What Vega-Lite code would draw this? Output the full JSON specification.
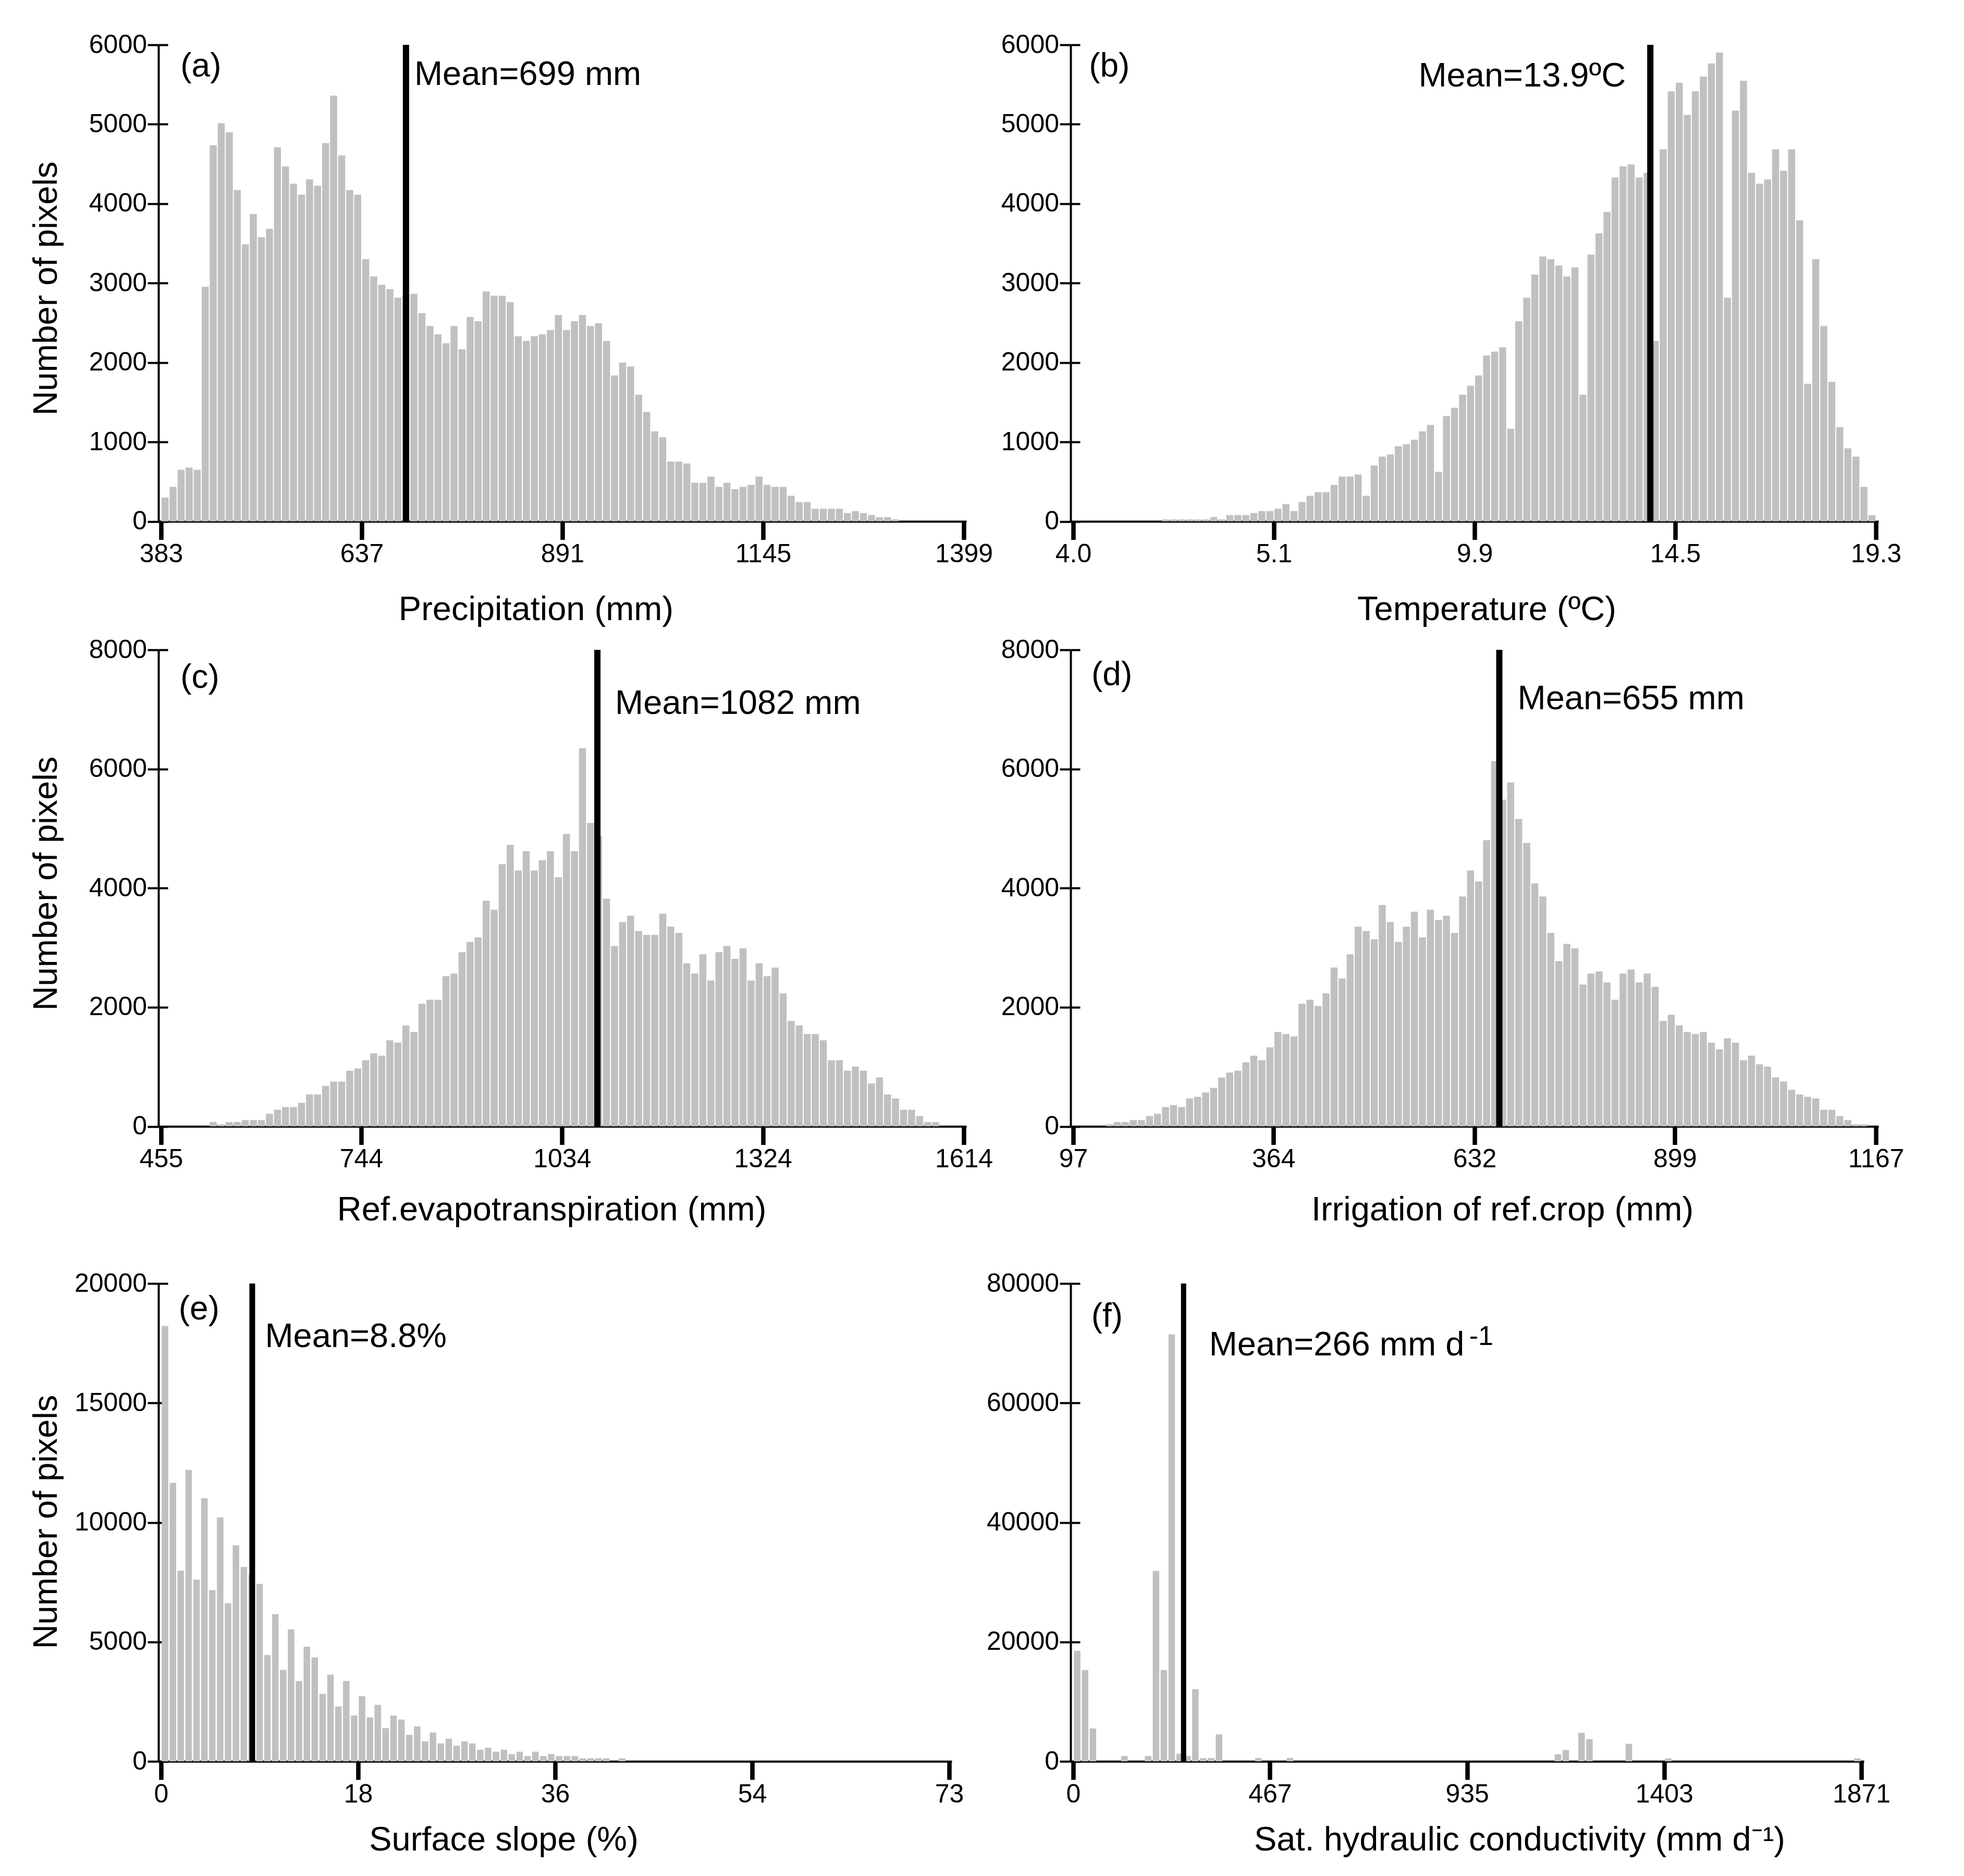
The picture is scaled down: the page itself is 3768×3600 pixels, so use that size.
{
"$schema":"https://vega.github.io/schema/vega-lite/v6.json",
"background":"white",
"padding":{"left":56,"top":61,"right":5,"bottom":5},
"config":{
 "font":"Liberation Sans",
 "view":{"stroke":null},
 "axis":{"grid":false,"domainColor":"#000","tickColor":"#000","labelColor":"#000","titleColor":"#000","labelFont":"Liberation Sans","titleFont":"Liberation Sans","labelFontSize":50,"titleFontSize":65,"titleFontWeight":"normal","labelFlush":false,"labelOverlap":false,"labelBound":false,"titleAlign":"center","titleBaseline":"alphabetic"},
 "axisX":{"domainWidth":4,"tickWidth":8.5,"tickSize":35,"labelPadding":3,"titleAngle":0},
 "axisY":{"domainWidth":4,"tickWidth":4,"tickSize":21,"labelPadding":1.5,"titleAngle":-90},
 "text":{"font":"Liberation Sans","color":"#000"}
},
"datasets":{
"means":[
 {"p":"a","mean":693,"label":"Mean=699 mm","tag":"(a)"},
 {"p":"b","mean":15.0,"label":"Mean=13.9ºC","tag":"(b)"},
 {"p":"c","mean":1085,"label":"Mean=1082 mm","tag":"(c)"},
 {"p":"d","mean":665,"label":"Mean=655 mm","tag":"(d)"},
 {"p":"e","mean":8.4,"label":"Mean=8.8%","tag":"(e)"},
 {"p":"f","mean":262,"label":"Mean=266 mm d","tag":"(f)","sup":"-1"}
],
"bins":[
{"p":"a","x":388.1,"n":300},{"p":"a","x":398.2,"n":435},{"p":"a","x":408.4,"n":649},{"p":"a","x":418.6,"n":678},{"p":"a","x":428.7,"n":649},{"p":"a","x":438.9,"n":2954},{"p":"a","x":449.0,"n":4736},{"p":"a","x":459.2,"n":5012},{"p":"a","x":469.4,"n":4899},{"p":"a","x":479.5,"n":4171},
{"p":"a","x":489.7,"n":3489},{"p":"a","x":499.8,"n":3870},{"p":"a","x":510.0,"n":3577},{"p":"a","x":520.2,"n":3682},{"p":"a","x":530.3,"n":4711},{"p":"a","x":540.5,"n":4468},{"p":"a","x":550.6,"n":4251},{"p":"a","x":560.8,"n":4113},{"p":"a","x":571.0,"n":4305},{"p":"a","x":581.1,"n":4226},
{"p":"a","x":591.3,"n":4761},{"p":"a","x":601.4,"n":5360},{"p":"a","x":611.6,"n":4607},{"p":"a","x":621.8,"n":4171},{"p":"a","x":631.9,"n":4113},{"p":"a","x":642.1,"n":3301},{"p":"a","x":652.2,"n":3084},{"p":"a","x":662.4,"n":2979},{"p":"a","x":672.6,"n":2925},{"p":"a","x":682.7,"n":2816},
{"p":"a","x":692.9,"n":2850},{"p":"a","x":703.0,"n":2866},{"p":"a","x":713.2,"n":2623},{"p":"a","x":723.4,"n":2460},{"p":"a","x":733.5,"n":2356},{"p":"a","x":743.7,"n":2243},{"p":"a","x":753.8,"n":2460},{"p":"a","x":764.0,"n":2167},{"p":"a","x":774.2,"n":2573},{"p":"a","x":784.3,"n":2519},
{"p":"a","x":794.5,"n":2895},{"p":"a","x":804.6,"n":2841},{"p":"a","x":814.8,"n":2841},{"p":"a","x":825.0,"n":2761},{"p":"a","x":835.1,"n":2331},{"p":"a","x":845.3,"n":2272},{"p":"a","x":855.4,"n":2331},{"p":"a","x":865.6,"n":2356},{"p":"a","x":875.8,"n":2410},{"p":"a","x":885.9,"n":2598},
{"p":"a","x":896.1,"n":2410},{"p":"a","x":906.2,"n":2519},{"p":"a","x":916.4,"n":2598},{"p":"a","x":926.6,"n":2460},{"p":"a","x":936.7,"n":2494},{"p":"a","x":946.9,"n":2272},{"p":"a","x":957.0,"n":1837},{"p":"a","x":967.2,"n":2000},{"p":"a","x":977.4,"n":1950},{"p":"a","x":987.5,"n":1594},
{"p":"a","x":997.7,"n":1377},{"p":"a","x":1007.8,"n":1134},{"p":"a","x":1018.0,"n":1059},{"p":"a","x":1028.2,"n":753},{"p":"a","x":1038.3,"n":753},{"p":"a","x":1048.5,"n":728},{"p":"a","x":1058.6,"n":485},{"p":"a","x":1068.8,"n":485},{"p":"a","x":1079.0,"n":565},{"p":"a","x":1089.1,"n":435},
{"p":"a","x":1099.3,"n":485},{"p":"a","x":1109.4,"n":406},{"p":"a","x":1119.6,"n":435},{"p":"a","x":1129.8,"n":460},{"p":"a","x":1139.9,"n":565},{"p":"a","x":1150.1,"n":460},{"p":"a","x":1160.2,"n":435},{"p":"a","x":1170.4,"n":435},{"p":"a","x":1180.6,"n":322},{"p":"a","x":1190.7,"n":243},
{"p":"a","x":1200.9,"n":243},{"p":"a","x":1211.0,"n":159},{"p":"a","x":1221.2,"n":159},{"p":"a","x":1231.4,"n":159},{"p":"a","x":1241.5,"n":159},{"p":"a","x":1251.7,"n":105},{"p":"a","x":1261.8,"n":130},{"p":"a","x":1272.0,"n":105},{"p":"a","x":1282.2,"n":80},{"p":"a","x":1292.3,"n":54},
{"p":"a","x":1302.5,"n":54},{"p":"a","x":1312.6,"n":25},
{"p":"b","x":5.760,"n":25},{"p":"b","x":5.913,"n":25},{"p":"b","x":6.066,"n":25},{"p":"b","x":6.219,"n":25},{"p":"b","x":6.372,"n":25},{"p":"b","x":6.525,"n":25},{"p":"b","x":6.678,"n":54},{"p":"b","x":6.831,"n":25},{"p":"b","x":6.984,"n":80},
{"p":"b","x":7.137,"n":80},{"p":"b","x":7.290,"n":80},{"p":"b","x":7.443,"n":105},{"p":"b","x":7.596,"n":130},{"p":"b","x":7.749,"n":130},{"p":"b","x":7.902,"n":159},{"p":"b","x":8.055,"n":218},{"p":"b","x":8.208,"n":130},{"p":"b","x":8.361,"n":243},{"p":"b","x":8.514,"n":322},
{"p":"b","x":8.667,"n":368},{"p":"b","x":8.820,"n":368},{"p":"b","x":8.973,"n":460},{"p":"b","x":9.126,"n":565},{"p":"b","x":9.279,"n":565},{"p":"b","x":9.432,"n":590},{"p":"b","x":9.585,"n":322},{"p":"b","x":9.738,"n":703},{"p":"b","x":9.891,"n":816},{"p":"b","x":10.044,"n":841},
{"p":"b","x":10.197,"n":946},{"p":"b","x":10.350,"n":971},{"p":"b","x":10.503,"n":1029},{"p":"b","x":10.656,"n":1134},{"p":"b","x":10.809,"n":1213},{"p":"b","x":10.962,"n":623},{"p":"b","x":11.115,"n":1326},{"p":"b","x":11.268,"n":1431},{"p":"b","x":11.421,"n":1594},{"p":"b","x":11.574,"n":1707},
{"p":"b","x":11.727,"n":1837},{"p":"b","x":11.880,"n":2088},{"p":"b","x":12.033,"n":2138},{"p":"b","x":12.186,"n":2192},{"p":"b","x":12.339,"n":1167},{"p":"b","x":12.492,"n":2519},{"p":"b","x":12.645,"n":2816},{"p":"b","x":12.798,"n":3109},{"p":"b","x":12.951,"n":3335},{"p":"b","x":13.104,"n":3301},
{"p":"b","x":13.257,"n":3222},{"p":"b","x":13.410,"n":3084},{"p":"b","x":13.563,"n":3197},{"p":"b","x":13.716,"n":1594},{"p":"b","x":13.869,"n":3360},{"p":"b","x":14.022,"n":3627},{"p":"b","x":14.175,"n":3895},{"p":"b","x":14.328,"n":4330},{"p":"b","x":14.481,"n":4469},{"p":"b","x":14.634,"n":4494},
{"p":"b","x":14.787,"n":4330},{"p":"b","x":14.940,"n":4389},{"p":"b","x":15.093,"n":2272},{"p":"b","x":15.246,"n":4686},{"p":"b","x":15.399,"n":5414},{"p":"b","x":15.552,"n":5523},{"p":"b","x":15.705,"n":5117},{"p":"b","x":15.858,"n":5414},{"p":"b","x":16.011,"n":5602},{"p":"b","x":16.164,"n":5766},
{"p":"b","x":16.317,"n":5904},{"p":"b","x":16.470,"n":2816},{"p":"b","x":16.623,"n":5171},{"p":"b","x":16.776,"n":5548},{"p":"b","x":16.929,"n":4389},{"p":"b","x":17.082,"n":4251},{"p":"b","x":17.235,"n":4305},{"p":"b","x":17.388,"n":4686},{"p":"b","x":17.541,"n":4414},{"p":"b","x":17.694,"n":4686},
{"p":"b","x":17.847,"n":3791},{"p":"b","x":18.000,"n":1732},{"p":"b","x":18.153,"n":3301},{"p":"b","x":18.306,"n":2460},{"p":"b","x":18.459,"n":1757},{"p":"b","x":18.612,"n":1188},{"p":"b","x":18.765,"n":920},{"p":"b","x":18.918,"n":816},{"p":"b","x":19.071,"n":435},{"p":"b","x":19.224,"n":80},
{"p":"c","x":530.3,"n":73},{"p":"c","x":541.9,"n":33},{"p":"c","x":553.5,"n":73},{"p":"c","x":565.1,"n":73},{"p":"c","x":576.7,"n":106},{"p":"c","x":588.3,"n":106},{"p":"c","x":599.9,"n":106},{"p":"c","x":611.5,"n":212},{"p":"c","x":623.1,"n":279},{"p":"c","x":634.6,"n":324},
{"p":"c","x":646.2,"n":324},{"p":"c","x":657.8,"n":396},{"p":"c","x":669.4,"n":536},{"p":"c","x":681.0,"n":536},{"p":"c","x":692.6,"n":681},{"p":"c","x":704.2,"n":753},{"p":"c","x":715.8,"n":753},{"p":"c","x":727.4,"n":937},{"p":"c","x":739.0,"n":971},{"p":"c","x":750.5,"n":1110},
{"p":"c","x":762.1,"n":1227},{"p":"c","x":773.7,"n":1188},{"p":"c","x":785.3,"n":1445},{"p":"c","x":796.9,"n":1406},{"p":"c","x":808.5,"n":1696},{"p":"c","x":820.1,"n":1584},{"p":"c","x":831.7,"n":2059},{"p":"c","x":843.3,"n":2126},{"p":"c","x":854.9,"n":2126},{"p":"c","x":866.4,"n":2522},
{"p":"c","x":878.0,"n":2566},{"p":"c","x":889.6,"n":2923},{"p":"c","x":901.2,"n":3096},{"p":"c","x":912.8,"n":3174},{"p":"c","x":924.4,"n":3788},{"p":"c","x":936.0,"n":3638},{"p":"c","x":947.6,"n":4402},{"p":"c","x":959.2,"n":4725},{"p":"c","x":970.8,"n":4296},{"p":"c","x":982.3,"n":4619},
{"p":"c","x":993.9,"n":4296},{"p":"c","x":1005.5,"n":4469},{"p":"c","x":1017.1,"n":4619},{"p":"c","x":1028.7,"n":4184},{"p":"c","x":1040.3,"n":4909},{"p":"c","x":1051.9,"n":4619},{"p":"c","x":1063.5,"n":6349},{"p":"c","x":1075.1,"n":5094},{"p":"c","x":1086.7,"n":4870},{"p":"c","x":1098.2,"n":3822},
{"p":"c","x":1109.8,"n":3029},{"p":"c","x":1121.4,"n":3431},{"p":"c","x":1133.0,"n":3537},{"p":"c","x":1144.6,"n":3280},{"p":"c","x":1156.2,"n":3214},{"p":"c","x":1167.8,"n":3214},{"p":"c","x":1179.4,"n":3571},{"p":"c","x":1191.0,"n":3353},{"p":"c","x":1202.6,"n":3247},{"p":"c","x":1214.1,"n":2739},
{"p":"c","x":1225.7,"n":2566},{"p":"c","x":1237.3,"n":2890},{"p":"c","x":1248.9,"n":2449},{"p":"c","x":1260.5,"n":2923},{"p":"c","x":1272.1,"n":3029},{"p":"c","x":1283.7,"n":2812},{"p":"c","x":1295.3,"n":2990},{"p":"c","x":1306.9,"n":2449},{"p":"c","x":1318.5,"n":2739},{"p":"c","x":1330.0,"n":2522},
{"p":"c","x":1341.6,"n":2667},{"p":"c","x":1353.2,"n":2232},{"p":"c","x":1364.8,"n":1769},{"p":"c","x":1376.4,"n":1696},{"p":"c","x":1388.0,"n":1551},{"p":"c","x":1399.6,"n":1551},{"p":"c","x":1411.2,"n":1445},{"p":"c","x":1422.8,"n":1110},{"p":"c","x":1434.4,"n":1110},{"p":"c","x":1445.9,"n":937},
{"p":"c","x":1457.5,"n":1004},{"p":"c","x":1469.1,"n":937},{"p":"c","x":1480.7,"n":720},{"p":"c","x":1492.3,"n":820},{"p":"c","x":1503.9,"n":536},{"p":"c","x":1515.5,"n":469},{"p":"c","x":1527.1,"n":279},{"p":"c","x":1538.7,"n":279},{"p":"c","x":1550.3,"n":173},{"p":"c","x":1561.8,"n":73},
{"p":"c","x":1573.4,"n":73},
{"p":"d","x":145.15,"n":33},{"p":"d","x":155.85,"n":73},{"p":"d","x":166.55,"n":73},{"p":"d","x":177.25,"n":106},{"p":"d","x":187.95,"n":106},{"p":"d","x":198.65,"n":173},{"p":"d","x":209.35,"n":212},{"p":"d","x":220.05,"n":324},{"p":"d","x":230.75,"n":357},{"p":"d","x":241.45,"n":324},
{"p":"d","x":252.15,"n":469},{"p":"d","x":262.85,"n":497},{"p":"d","x":273.55,"n":569},{"p":"d","x":284.25,"n":647},{"p":"d","x":294.95,"n":820},{"p":"d","x":305.65,"n":904},{"p":"d","x":316.35,"n":937},{"p":"d","x":327.05,"n":1077},{"p":"d","x":337.75,"n":1188},{"p":"d","x":348.45,"n":1110},
{"p":"d","x":359.15,"n":1328},{"p":"d","x":369.85,"n":1584},{"p":"d","x":380.55,"n":1551},{"p":"d","x":391.25,"n":1512},{"p":"d","x":401.95,"n":2059},{"p":"d","x":412.65,"n":2126},{"p":"d","x":423.35,"n":2020},{"p":"d","x":434.05,"n":2232},{"p":"d","x":444.75,"n":2667},{"p":"d","x":455.45,"n":2483},
{"p":"d","x":466.15,"n":2890},{"p":"d","x":476.85,"n":3353},{"p":"d","x":487.55,"n":3280},{"p":"d","x":498.25,"n":3141},{"p":"d","x":508.95,"n":3716},{"p":"d","x":519.65,"n":3431},{"p":"d","x":530.35,"n":3096},{"p":"d","x":541.05,"n":3353},{"p":"d","x":551.75,"n":3604},{"p":"d","x":562.45,"n":3174},
{"p":"d","x":573.15,"n":3638},{"p":"d","x":583.85,"n":3465},{"p":"d","x":594.55,"n":3537},{"p":"d","x":605.25,"n":3247},{"p":"d","x":615.95,"n":3861},{"p":"d","x":626.65,"n":4296},{"p":"d","x":637.35,"n":4112},{"p":"d","x":648.05,"n":4804},{"p":"d","x":658.75,"n":6131},{"p":"d","x":669.45,"n":5484},
{"p":"d","x":680.15,"n":5774},{"p":"d","x":690.85,"n":5161},{"p":"d","x":701.55,"n":4759},{"p":"d","x":712.25,"n":4078},{"p":"d","x":722.95,"n":3861},{"p":"d","x":733.65,"n":3247},{"p":"d","x":744.35,"n":2773},{"p":"d","x":755.05,"n":3063},{"p":"d","x":765.75,"n":2990},{"p":"d","x":776.45,"n":2382},
{"p":"d","x":787.15,"n":2566},{"p":"d","x":797.85,"n":2600},{"p":"d","x":808.55,"n":2416},{"p":"d","x":819.25,"n":2126},{"p":"d","x":829.95,"n":2566},{"p":"d","x":840.65,"n":2633},{"p":"d","x":851.35,"n":2416},{"p":"d","x":862.05,"n":2566},{"p":"d","x":872.75,"n":2343},{"p":"d","x":883.45,"n":1769},
{"p":"d","x":894.15,"n":1875},{"p":"d","x":904.85,"n":1696},{"p":"d","x":915.55,"n":1584},{"p":"d","x":926.25,"n":1551},{"p":"d","x":936.95,"n":1584},{"p":"d","x":947.65,"n":1406},{"p":"d","x":958.35,"n":1294},{"p":"d","x":969.05,"n":1478},{"p":"d","x":979.75,"n":1406},{"p":"d","x":990.45,"n":1110},
{"p":"d","x":1001.15,"n":1188},{"p":"d","x":1011.85,"n":1043},{"p":"d","x":1022.55,"n":1004},{"p":"d","x":1033.25,"n":820},{"p":"d","x":1043.95,"n":753},{"p":"d","x":1054.65,"n":614},{"p":"d","x":1065.35,"n":536},{"p":"d","x":1076.05,"n":497},{"p":"d","x":1086.75,"n":469},{"p":"d","x":1097.45,"n":279},
{"p":"d","x":1108.15,"n":279},{"p":"d","x":1118.85,"n":173},{"p":"d","x":1129.55,"n":106},{"p":"d","x":1140.25,"n":33},{"p":"d","x":1150.95,"n":33},
{"p":"e","x":0.363,"n":18220},{"p":"e","x":1.089,"n":11655},{"p":"e","x":1.815,"n":7983},{"p":"e","x":2.541,"n":12197},{"p":"e","x":3.267,"n":7608},{"p":"e","x":3.993,"n":11015},{"p":"e","x":4.719,"n":7163},{"p":"e","x":5.445,"n":10209},{"p":"e","x":6.171,"n":6620},{"p":"e","x":6.897,"n":9040},
{"p":"e","x":7.623,"n":8136},{"p":"e","x":8.349,"n":7800},{"p":"e","x":9.075,"n":7427},{"p":"e","x":9.801,"n":4451},{"p":"e","x":10.527,"n":6161},{"p":"e","x":11.253,"n":3825},{"p":"e","x":11.979,"n":5521},{"p":"e","x":12.705,"n":3366},{"p":"e","x":13.431,"n":4798},{"p":"e","x":14.157,"n":4353},
{"p":"e","x":14.883,"n":2823},{"p":"e","x":15.609,"n":3630},{"p":"e","x":16.335,"n":2295},{"p":"e","x":17.061,"n":3366},{"p":"e","x":17.787,"n":1919},{"p":"e","x":18.513,"n":2726},{"p":"e","x":19.239,"n":1836},{"p":"e","x":19.965,"n":2364},{"p":"e","x":20.691,"n":1391},{"p":"e","x":21.417,"n":1919},
{"p":"e","x":22.143,"n":1752},{"p":"e","x":22.869,"n":1113},{"p":"e","x":23.595,"n":1460},{"p":"e","x":24.321,"n":834},{"p":"e","x":25.047,"n":1210},{"p":"e","x":25.773,"n":751},{"p":"e","x":26.499,"n":946},{"p":"e","x":27.225,"n":654},{"p":"e","x":27.951,"n":834},{"p":"e","x":28.677,"n":751},
{"p":"e","x":29.403,"n":487},{"p":"e","x":30.129,"n":570},{"p":"e","x":30.855,"n":403},{"p":"e","x":31.581,"n":487},{"p":"e","x":32.307,"n":306},{"p":"e","x":33.033,"n":403},{"p":"e","x":33.759,"n":222},{"p":"e","x":34.485,"n":403},{"p":"e","x":35.211,"n":222},{"p":"e","x":35.937,"n":306},
{"p":"e","x":36.663,"n":222},{"p":"e","x":37.389,"n":222},{"p":"e","x":38.115,"n":222},{"p":"e","x":38.841,"n":125},{"p":"e","x":39.567,"n":125},{"p":"e","x":40.293,"n":125},{"p":"e","x":41.019,"n":125},{"p":"e","x":42.471,"n":125},
{"p":"f","x":9.4,"n":18525},{"p":"f","x":28.1,"n":15298},{"p":"f","x":46.8,"n":5507},{"p":"f","x":121.6,"n":890},{"p":"f","x":177.8,"n":890},{"p":"f","x":196.5,"n":31876},{"p":"f","x":215.2,"n":15298},{"p":"f","x":233.9,"n":71485},{"p":"f","x":252.6,"n":1280},{"p":"f","x":271.3,"n":890},
{"p":"f","x":290.0,"n":12072},{"p":"f","x":308.7,"n":556},{"p":"f","x":327.4,"n":556},{"p":"f","x":346.1,"n":4506},{"p":"f","x":439.7,"n":556},{"p":"f","x":514.5,"n":556},{"p":"f","x":1150.7,"n":1192},{"p":"f","x":1169.4,"n":1890},{"p":"f","x":1206.8,"n":4769},{"p":"f","x":1225.5,"n":3722},
{"p":"f","x":1319.1,"n":2937},{"p":"f","x":1412.6,"n":494},{"p":"f","x":1861.6,"n":494}
]},
"concat":[
   {"width":1550,"height":914.5,"resolve":{"axis":{"y":"independent"}},"layer":[
    {"data":{"name":"bins"},"transform":[{"filter":"datum.p==='a'"}],"mark":{"type":"bar","width":13.5,"color":"#c0c0c0"},
     "encoding":{"x":{"field":"x","type":"quantitative","scale":{"domain":[383,1399],"nice":false,"zero":false},"axis":{"values":[383,637,891,1145,1399],"format":"d","title":"Precipitation (mm)","titleX":724,"titleY":189}},
                 "y":{"field":"n","type":"quantitative","scale":{"domain":[0,6000],"nice":false},"axis":{"orient":"left","values":[0,1000,2000,3000,4000,5000,6000],"format":"d","title":"Number of pixels","titleX":-196,"titleY":467}}}},
    {"data":{"name":"means"},"transform":[{"filter":"datum.p==='a'"}],"mark":{"type":"rule","strokeWidth":12,"color":"#000"},"encoding":{"x":{"field":"mean","type":"quantitative"}}},
    {"data":{"name":"means"},"transform":[{"filter":"datum.p==='a'"}],"mark":{"type":"text","align":"left","baseline":"alphabetic","fontSize":65,"dx":16},"encoding":{"x":{"field":"mean","type":"quantitative"},"y":{"datum":5498,"type":"quantitative","axis":null},"text":{"field":"label"}}},
    {"data":{"name":"means"},"transform":[{"filter":"datum.p==='a'"}],"mark":{"type":"text","align":"left","baseline":"alphabetic","fontSize":64},"encoding":{"x":{"datum":407.6,"type":"quantitative"},"y":{"datum":5603,"type":"quantitative","axis":{"orient":"left","values":[0,1000,2000,3000,4000,5000,6000],"labels":false,"domain":false,"title":null,"tickSize":-18}},"text":{"field":"tag"}}}
   ]},
   {"width":1550,"height":914.5,"resolve":{"axis":{"y":"independent"}},"layer":[
    {"data":{"name":"bins"},"transform":[{"filter":"datum.p==='b'"}],"mark":{"type":"bar","width":13.5,"color":"#c0c0c0"},
     "encoding":{"x":{"field":"x","type":"quantitative","scale":{"domain":[4.0,19.3],"nice":false,"zero":false},"axis":{"values":[4.0,7.825,11.65,15.475,19.3],"labelExpr":"datum.value < 5 ? '4.0' : datum.value < 9 ? '5.1' : datum.value < 13 ? '9.9' : datum.value < 17 ? '14.5' : '19.3'","title":"Temperature (ºC)","titleX":798,"titleY":189}},
                 "y":{"field":"n","type":"quantitative","scale":{"domain":[0,6000],"nice":false},"axis":{"orient":"left","values":[0,1000,2000,3000,4000,5000,6000],"format":"d","title":null}}}},
    {"data":{"name":"means"},"transform":[{"filter":"datum.p==='b'"}],"mark":{"type":"rule","strokeWidth":12,"color":"#000"},"encoding":{"x":{"field":"mean","type":"quantitative"}}},
    {"data":{"name":"means"},"transform":[{"filter":"datum.p==='b'"}],"mark":{"type":"text","align":"right","baseline":"alphabetic","fontSize":65,"dx":-47},"encoding":{"x":{"field":"mean","type":"quantitative"},"y":{"datum":5478,"type":"quantitative","axis":null},"text":{"field":"label"}}},
    {"data":{"name":"means"},"transform":[{"filter":"datum.p==='b'"}],"mark":{"type":"text","align":"left","baseline":"alphabetic","fontSize":64},"encoding":{"x":{"datum":4.30,"type":"quantitative"},"y":{"datum":5603,"type":"quantitative","axis":{"orient":"left","values":[0,1000,2000,3000,4000,5000,6000],"labels":false,"domain":false,"title":null,"tickSize":-18}},"text":{"field":"tag"}}}
   ]},
   {"width":1550,"height":245.5,"data":{"name":"means"},"transform":[{"filter":"false"}],"mark":"text","encoding":{}},
   {"width":1550,"height":245.5,"data":{"name":"means"},"transform":[{"filter":"false"}],"mark":"text","encoding":{}},
   {"width":1550,"height":914.5,"resolve":{"axis":{"y":"independent"}},"layer":[
    {"data":{"name":"bins"},"transform":[{"filter":"datum.p==='c'"}],"mark":{"type":"bar","width":13.5,"color":"#c0c0c0"},
     "encoding":{"x":{"field":"x","type":"quantitative","scale":{"domain":[455,1614],"nice":false,"zero":false},"axis":{"values":[455,744,1034,1324,1614],"format":"d","title":"Ref.evapotranspiration (mm)","titleX":754,"titleY":180}},
                 "y":{"field":"n","type":"quantitative","scale":{"domain":[0,8000],"nice":false},"axis":{"orient":"left","values":[0,2000,4000,6000,8000],"format":"d","title":"Number of pixels","titleX":-196,"titleY":448}}}},
    {"data":{"name":"means"},"transform":[{"filter":"datum.p==='c'"}],"mark":{"type":"rule","strokeWidth":12,"color":"#000"},"encoding":{"x":{"field":"mean","type":"quantitative"}}},
    {"data":{"name":"means"},"transform":[{"filter":"datum.p==='c'"}],"mark":{"type":"text","align":"left","baseline":"alphabetic","fontSize":65,"dx":34},"encoding":{"x":{"field":"mean","type":"quantitative"},"y":{"datum":6928,"type":"quantitative","axis":null},"text":{"field":"label"}}},
    {"data":{"name":"means"},"transform":[{"filter":"datum.p==='c'"}],"mark":{"type":"text","align":"left","baseline":"alphabetic","fontSize":64},"encoding":{"x":{"datum":483,"type":"quantitative"},"y":{"datum":7358,"type":"quantitative","axis":{"orient":"left","values":[0,2000,4000,6000,8000],"labels":false,"domain":false,"title":null,"tickSize":-18}},"text":{"field":"tag"}}}
   ]},
   {"width":1550,"height":914.5,"resolve":{"axis":{"y":"independent"}},"layer":[
    {"data":{"name":"bins"},"transform":[{"filter":"datum.p==='d'"}],"mark":{"type":"bar","width":13.5,"color":"#c0c0c0"},
     "encoding":{"x":{"field":"x","type":"quantitative","scale":{"domain":[97,1167],"nice":false,"zero":false},"axis":{"values":[97,364,632,899,1167],"format":"d","title":"Irrigation of ref.crop (mm)","titleX":828,"titleY":180}},
                 "y":{"field":"n","type":"quantitative","scale":{"domain":[0,8000],"nice":false},"axis":{"orient":"left","values":[0,2000,4000,6000,8000],"format":"d","title":null}}}},
    {"data":{"name":"means"},"transform":[{"filter":"datum.p==='d'"}],"mark":{"type":"rule","strokeWidth":12,"color":"#000"},"encoding":{"x":{"field":"mean","type":"quantitative"}}},
    {"data":{"name":"means"},"transform":[{"filter":"datum.p==='d'"}],"mark":{"type":"text","align":"left","baseline":"alphabetic","fontSize":65,"dx":35},"encoding":{"x":{"field":"mean","type":"quantitative"},"y":{"datum":7007,"type":"quantitative","axis":null},"text":{"field":"label"}}},
    {"data":{"name":"means"},"transform":[{"filter":"datum.p==='d'"}],"mark":{"type":"text","align":"left","baseline":"alphabetic","fontSize":64},"encoding":{"x":{"datum":121.3,"type":"quantitative"},"y":{"datum":7403,"type":"quantitative","axis":{"orient":"left","values":[0,2000,4000,6000,8000],"labels":false,"domain":false,"title":null,"tickSize":-18}},"text":{"field":"tag"}}}
   ]},
   {"width":1550,"height":301,"data":{"name":"means"},"transform":[{"filter":"false"}],"mark":"text","encoding":{}},
   {"width":1550,"height":301,"data":{"name":"means"},"transform":[{"filter":"false"}],"mark":"text","encoding":{}},
   {"width":1522,"height":917,"resolve":{"axis":{"y":"independent"}},"layer":[
    {"data":{"name":"bins"},"transform":[{"filter":"datum.p==='e'"}],"mark":{"type":"bar","width":12.5,"color":"#c0c0c0"},
     "encoding":{"x":{"field":"x","type":"quantitative","scale":{"domain":[0,72.6],"nice":false,"zero":false},"axis":{"values":[0,18.15,36.3,54.45,72.6],"format":".0f","title":"Surface slope (%)","titleX":662,"titleY":170}},
                 "y":{"field":"n","type":"quantitative","scale":{"domain":[0,20000],"nice":false},"axis":{"orient":"left","values":[0,5000,10000,15000,20000],"format":"d","title":"Number of pixels","titleX":-196,"titleY":457}}}},
    {"data":{"name":"means"},"transform":[{"filter":"datum.p==='e'"}],"mark":{"type":"rule","strokeWidth":11,"color":"#000"},"encoding":{"x":{"field":"mean","type":"quantitative"}}},
    {"data":{"name":"means"},"transform":[{"filter":"datum.p==='e'"}],"mark":{"type":"text","align":"left","baseline":"alphabetic","fontSize":65,"dx":24.5},"encoding":{"x":{"field":"mean","type":"quantitative"},"y":{"datum":17339,"type":"quantitative","axis":null},"text":{"field":"label"}}},
    {"data":{"name":"means"},"transform":[{"filter":"datum.p==='e'"}],"mark":{"type":"text","align":"left","baseline":"alphabetic","fontSize":64},"encoding":{"x":{"datum":1.62,"type":"quantitative"},"y":{"datum":18495,"type":"quantitative","axis":{"orient":"left","values":[0,5000,10000,15000,20000],"labels":false,"domain":false,"title":null,"tickSize":-18}},"text":{"field":"tag"}}}
   ]},
   {"width":1522,"height":917,"resolve":{"axis":{"y":"independent"}},"layer":[
    {"data":{"name":"bins"},"transform":[{"filter":"datum.p==='f'"}],"mark":{"type":"bar","width":12.5,"color":"#c0c0c0"},
     "encoding":{"x":{"field":"x","type":"quantitative","scale":{"domain":[0,1871],"nice":false,"zero":false},"axis":{"values":[0,467,935,1403,1871],"format":"d","title":"Sat. hydraulic conductivity (mm d⁻¹)","titleX":861,"titleY":170}},
                 "y":{"field":"n","type":"quantitative","scale":{"domain":[0,80000],"nice":false},"axis":{"orient":"left","values":[0,20000,40000,60000,80000],"format":"d","title":null}}}},
    {"data":{"name":"means"},"transform":[{"filter":"datum.p==='f'"}],"mark":{"type":"rule","strokeWidth":10,"color":"#000"},"encoding":{"x":{"field":"mean","type":"quantitative"}}},
    {"data":{"name":"means"},"transform":[{"filter":"datum.p==='f'"}],"mark":{"type":"text","align":"left","baseline":"alphabetic","fontSize":65,"dx":49},"encoding":{"x":{"field":"mean","type":"quantitative"},"y":{"datum":67961,"type":"quantitative","axis":null},"text":{"field":"label"}}},
    {"data":{"name":"means"},"transform":[{"filter":"datum.p==='f'"}],"mark":{"type":"text","align":"left","baseline":"alphabetic","fontSize":52,"dx":548},"encoding":{"x":{"field":"mean","type":"quantitative"},"y":{"datum":69732,"type":"quantitative","axis":null},"text":{"field":"sup"}}},
    {"data":{"name":"means"},"transform":[{"filter":"datum.p==='f'"}],"mark":{"type":"text","align":"left","baseline":"alphabetic","fontSize":64},"encoding":{"x":{"datum":43,"type":"quantitative"},"y":{"datum":72793,"type":"quantitative","axis":{"orient":"left","values":[0,20000,40000,60000,80000],"labels":false,"domain":false,"title":null,"tickSize":-18}},"text":{"field":"tag"}}}
   ]}
],
"columns":2,
"spacing":{"row":0,"column":200},
"bounds":"flush"
}
